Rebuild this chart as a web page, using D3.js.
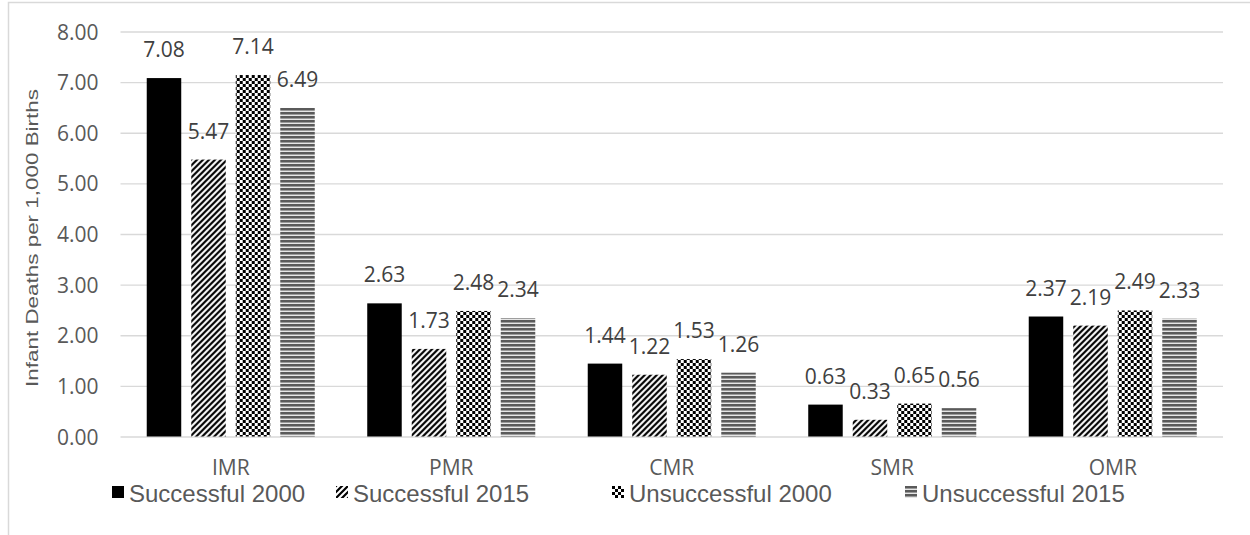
<!DOCTYPE html>
<html><head><meta charset="utf-8">
<script src="https://cdn.jsdelivr.net/npm/d3@7"></script>
<style>body{margin:0;background:#fff}svg{display:block}</style>
</head><body>
<svg id="c" width="1250" height="535"></svg>
<script>
const categories = ["IMR", "PMR", "CMR", "SMR", "OMR"];
const seriesNames = ["Successful 2000", "Successful 2015", "Unsuccessful 2000", "Unsuccessful 2015"];
const successful2000 = [7.08, 2.63, 1.44, 0.63, 2.37];
const successful2015 = [5.47, 1.73, 1.22, 0.33, 2.19];
const unsuccessful2000 = [7.14, 2.48, 1.53, 0.65, 2.49];
const unsuccessful2015 = [6.49, 2.34, 1.26, 0.56, 2.33];
const yTicks = [0, 1, 2, 3, 4, 5, 6, 7, 8];
const yTitle = "Infant Deaths per 1,000 Births";

(function(){
const seriesValues = [successful2000, successful2015, unsuccessful2000, unsuccessful2015];
const svg = d3.select("#c");
const defs = svg.append("defs");

// patterns
const p1 = defs.append("pattern").attr("id","pat1").attr("patternUnits","userSpaceOnUse").attr("width",6).attr("height",6);
p1.append("rect").attr("width",6).attr("height",6).attr("fill","#fff");
p1.append("path").attr("d","M-1,7 L7,-1 M-4,4 L4,-4 M2,10 L10,2").attr("stroke","#000").attr("stroke-width",2.2);
const p2 = defs.append("pattern").attr("id","pat2").attr("patternUnits","userSpaceOnUse").attr("width",6).attr("height",6);
p2.append("rect").attr("width",6).attr("height",6).attr("fill","#fff");
p2.append("rect").attr("width",3).attr("height",3).attr("fill","#000");
p2.append("rect").attr("x",3).attr("y",3).attr("width",3).attr("height",3).attr("fill","#000");
const p3 = defs.append("pattern").attr("id","pat3").attr("patternUnits","userSpaceOnUse").attr("width",4).attr("height",4);
p3.append("rect").attr("width",4).attr("height",4).attr("fill","#e6e6e6");
p3.append("rect").attr("width",4).attr("height",2).attr("fill","#5a5a5a");
p3.append("rect").attr("y",2).attr("width",4).attr("height",1).attr("fill","#9a9a9a");
const fills = ["#000", "url(#pat1)", "url(#pat2)", "url(#pat3)"];

// frame
svg.append("rect").attr("x",8.5).attr("y",2.5).attr("width",1300).attr("height",600)
  .attr("fill","none").attr("stroke","#d9d9d9").attr("stroke-width",1.5);

const pl = 120.5, pr = 1223, pt = 31.5, pb = 436.5;
const x0 = d3.scaleBand().domain(categories).range([pl, pr]).paddingInner(0.238).paddingOuter(0.119);
const x1 = d3.scaleBand().domain(d3.range(4)).range([0, x0.bandwidth()]).paddingInner(0.225).paddingOuter(0);
const y = d3.scaleLinear().domain([0, 8]).range([pb, pt]);

// gridlines
const yAxis = d3.axisLeft(y).tickValues(yTicks).tickSize(-(pr-pl)).tickFormat(d => d.toFixed(2)).tickPadding(22);
const ga = svg.append("g").attr("transform",`translate(${pl},0)`).call(yAxis);
ga.select(".domain").remove();
ga.selectAll(".tick line").attr("stroke","#d9d9d9").attr("stroke-width",1.4);
ga.selectAll(".tick text").attr("fill","#595959").style("font-family","'Open Sans'").style("font-size","21px").attr("dy","0.36em");

// bars
const groups = svg.append("g").selectAll("g").data(categories).join("g")
  .attr("transform", d => `translate(${x0(d)},0)`);
groups.selectAll("rect").data((d,i) => seriesValues.map((s,k) => ({k, v: s[i]}))).join("rect")
  .attr("x", d => x1(d.k)).attr("width", x1.bandwidth())
  .attr("y", d => y(d.v)).attr("height", d => y(0) - y(d.v))
  .attr("fill", d => fills[d.k]);
groups.selectAll("text").data((d,i) => seriesValues.map((s,k) => ({k, v: s[i]}))).join("text")
  .attr("x", d => x1(d.k) + x1.bandwidth()/2).attr("y", d => y(d.v) - 21)
  .attr("text-anchor","middle").attr("fill","#404040")
  .style("font-family","'Open Sans'").style("font-size","21px")
  .text(d => d.v.toFixed(2));

// x axis labels
const xAxis = d3.axisBottom(x0).tickSize(0).tickPadding(0);
const gx = svg.append("g").attr("transform",`translate(0,${pb})`).call(xAxis);
gx.select(".domain").remove();
gx.selectAll(".tick text").attr("y",38).attr("dy",0).attr("fill","#595959")
  .style("font-family","'Open Sans'").style("font-size","21px");

// y title
svg.append("text").attr("transform","translate(38,238) rotate(-90) scale(1.32,1)").attr("text-anchor","middle")
  .attr("fill","#595959").style("font-family","'Liberation Sans'").style("font-size","17px").text(yTitle);

// legend
const legX = [112, 336, 612, 905];
const leg = svg.append("g").selectAll("g").data(seriesNames).join("g")
  .attr("transform",(d,i) => `translate(${legX[i]},486)`);
leg.append("rect").attr("width",12).attr("height",12).attr("fill",(d,i) => fills[i]);
leg.append("text").attr("x",17).attr("y",16).attr("fill","#595959")
  .style("font-family","'Liberation Sans'").style("font-size","24px").text(d => d);
})();
</script>
</body></html>
